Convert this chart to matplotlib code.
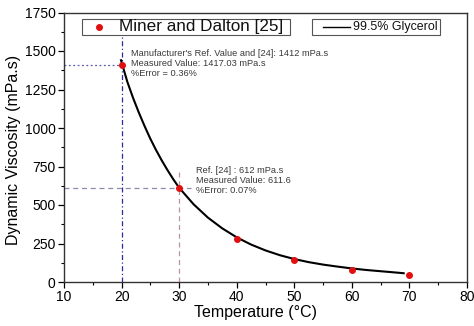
import matplotlib
matplotlib.use("Agg")
import matplotlib.pyplot as plt
from matplotlib.lines import Line2D
from matplotlib.patches import Rectangle

plt.rcParams['font.family'] = ['Liberation Sans', 'DejaVu Sans']

# Data
temp_pts = [20, 30, 40, 50, 60, 70]
visc_pts = [1412, 612, 281, 140, 80, 45]

temp_curve = [19.9, 21, 22, 23, 24, 25, 26, 27, 28, 29, 30, 32.5, 35, 37.5, 40,
              42.5, 45, 47.5, 50, 52.5, 55, 57.5, 60, 62.5, 65, 67.5, 69]
visc_curve = [1440, 1300, 1195, 1100, 1012, 930, 856, 788, 725, 666, 612, 505,
              418, 348, 290, 243, 205, 174, 149, 129, 113, 100, 88, 78, 70, 62, 57]

xticks = [10, 20, 30, 40, 50, 60, 70, 80]
yticks = [0, 250, 500, 750, 1000, 1250, 1500, 1750]

W, H = 474, 326
fig = plt.figure(figsize=(W / 100, H / 100), dpi=100)
ax = fig.add_axes([64 / W, 1 - 282 / H, (467 - 64) / W, (282 - 12.5) / H])

# reference lines
ax.plot([20, 20], [0, 1600], color='#2a2a9a', lw=0.9, ls=(0, (4, 2, 1, 2)))
ax.plot([10, 20], [1412, 1412], color='#5a5ab0', lw=0.9, ls=(0, (1.5, 2)))
ax.plot([10, 32], [612, 612], color='#8a8ab0', lw=0.9, ls=(0, (4, 3)))
ax.plot([30, 30], [0, 720], color='#c090a8', lw=0.9, ls=(0, (4, 3)))

ax.plot(temp_curve, visc_curve, color='black', lw=1.5, zorder=3)
ax.plot(temp_pts, visc_pts, 'o', color='#e01010', ms=4, zorder=4)

ax.set_xlim(10, 80)
ax.set_ylim(0, 1750)
ax.set_xticks(xticks)
ax.set_yticks(yticks)
ax.set_xticks([15, 25, 35, 45, 55, 65, 75], minor=True)
ax.set_yticks([125, 375, 625, 875, 1125, 1375, 1625], minor=True)
ax.tick_params(axis='both', which='major', direction='out', length=4, width=0.9,
               labelsize=10, colors='black', pad=2)
ax.tick_params(axis='both', which='minor', direction='out', length=2.5, width=0.8)
for s in ax.spines.values():
    s.set_linewidth(1.0)
    s.set_color('#333333')

ax.set_xlabel('Temperature (°C)', fontsize=11.5)
ax.xaxis.set_label_coords((255 - 64) / (467 - 64), -(313 - 282) / (282 - 12.5), transform=ax.transAxes)
ax.xaxis.label.set_va('center')
ax.set_ylabel('Dynamic Viscosity (mPa.s)', fontsize=11.5)
ax.yaxis.set_label_coords(-(64 - 14) / (467 - 64), 0.49, transform=ax.transAxes)
ax.yaxis.label.set_va('center')

txt_kw = dict(fontsize=6.7, color='#3a3a3a', va='center', ha='left')
ax.text(21.7, 1487, "Manufacturer's Ref. Value and [24]: 1412 mPa.s", **txt_kw)
ax.text(21.7, 1422, "Measured Value: 1417.03 mPa.s", **txt_kw)
ax.text(21.7, 1357, "%Error = 0.36%", **txt_kw)
ax.text(33.0, 723, "Ref. [24] : 612 mPa.s", **txt_kw)
ax.text(33.0, 656, "Measured Value: 611.6", **txt_kw)
ax.text(33.0, 591, "%Error: 0.07%", **txt_kw)

# legend boxes (drawn in figure pixel coordinates)
def fx(px):
    return px / W

def fy(py):
    return 1 - py / H

for (x0, x1) in [(82, 290), (312, 440)]:
    fig.patches.append(Rectangle((fx(x0), fy(34.5)), fx(x1) - fx(x0), fy(19) - fy(34.5),
                                 transform=fig.transFigure, fill=True, facecolor='white',
                                 edgecolor='#555555', lw=0.8, zorder=5))
fig.add_artist(Line2D([fx(99)], [fy(27)], marker='o', color='#e01010', ms=4,
                      ls='none', transform=fig.transFigure, zorder=6))
fig.text(fx(119), fy(27), 'Miner and Dalton [25]', fontsize=12.3, va='center',
         ha='left', zorder=6, color='#111111')
fig.add_artist(Line2D([fx(323), fx(350)], [fy(27), fy(27)], color='black', lw=1.0,
                      transform=fig.transFigure, zorder=6))
fig.text(fx(353), fy(27), '99.5% Glycerol', fontsize=8.9, va='center',
         ha='left', zorder=6, color='#111111')

fig.savefig('out.png', dpi=100)
